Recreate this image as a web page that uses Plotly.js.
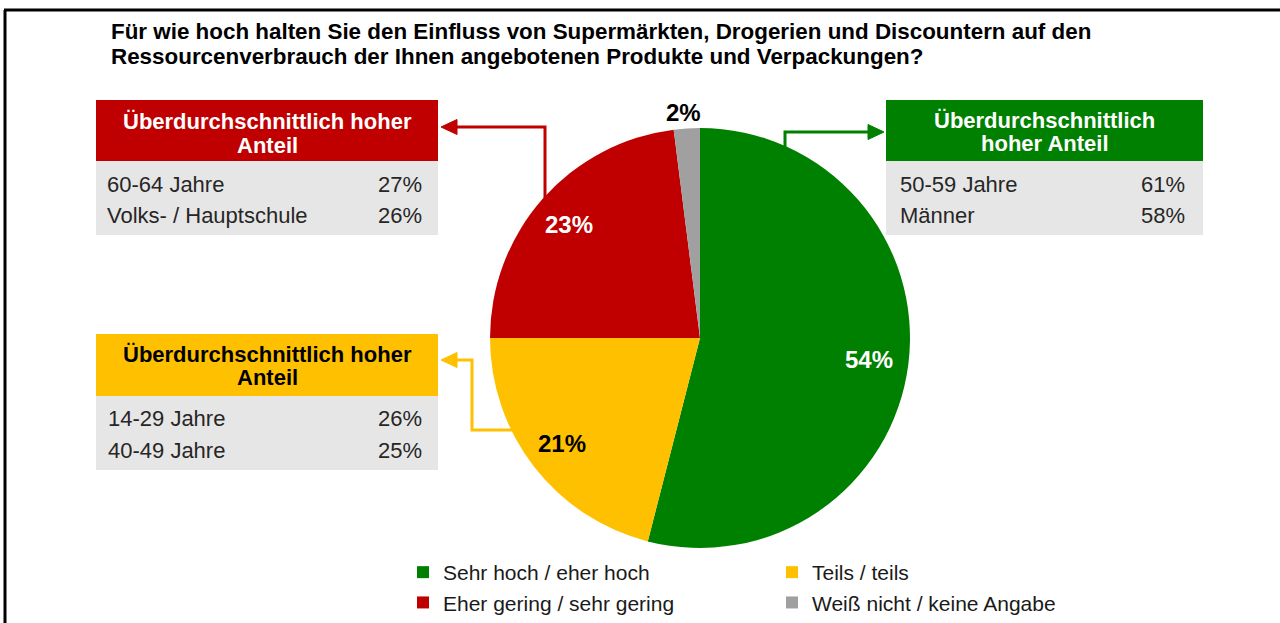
<!DOCTYPE html>
<html>
<head>
<meta charset="utf-8">
<script src="https://cdn.plot.ly/plotly-3.0.1.min.js"></script>
<style>html,body{margin:0;padding:0;background:#fff;}#chart{width:1280px;height:623px;}</style>
</head>
<body>
<div id="chart"></div>
<script>
// ---------- data ----------
const titleLines = ['Für wie hoch halten Sie den Einfluss von Supermärkten, Drogerien und Discountern auf den',
                    'Ressourcenverbrauch der Ihnen angebotenen Produkte und Verpackungen?'];
const categories = ['Sehr hoch / eher hoch', 'Teils / teils', 'Eher gering / sehr gering', 'Weiß nicht / keine Angabe'];
const values = [54, 21, 23, 2];

const redHeader = ['Überdurchschnittlich hoher', 'Anteil'];
const redRows = ['60-64 Jahre', 'Volks- / Hauptschule'];
const redVals = [27, 26];

const greenHeader = ['Überdurchschnittlich', 'hoher Anteil'];
const greenRows = ['50-59 Jahre', 'Männer'];
const greenVals = [61, 58];

const yellowHeader = ['Überdurchschnittlich hoher', 'Anteil'];
const yellowRows = ['14-29 Jahre', '40-49 Jahre'];
const yellowVals = [26, 25];

// ---------- styling / layout helpers ----------
const GREEN = '#008000', YELLOW = '#FFC000', RED = '#C00000', GREY = '#A0A0A0', BODY = '#E6E6E6';
const sliceColors = [GREEN, YELLOW, RED, GREY];
const labelColors = ['#fff', '#000', '#fff', '#000'];
const W = 1280, H = 623, ML = 240, MR = 240, MT = 0, MB = 0;
const PW = W - ML - MR, PH = H - MT - MB;
const px = x => (x - ML) / PW;
const py = y => (H - MB - y) / PH;
const FONT = '"Liberation Sans", Arial, Helvetica, sans-serif';

// pie geometry (pixels)
const PIE = {cx: 700, cy: 338, r: 210};

const shapes = [];
const annotations = [];

// outer frame
shapes.push({type: 'line', xref: 'paper', yref: 'paper', x0: px(4), x1: px(1285), y0: py(10), y1: py(10), line: {color: '#000', width: 3}});
shapes.push({type: 'line', xref: 'paper', yref: 'paper', x0: px(5), x1: px(5), y0: py(10), y1: py(630), line: {color: '#000', width: 3}});

// title
titleLines.forEach((t, i) => {
  annotations.push({xref: 'paper', yref: 'paper', x: px(109), y: py(32 + 24 * i), xanchor: 'left', yanchor: 'middle',
    text: t, showarrow: false, font: {family: FONT, size: 22.4, color: '#000', weight: 'bold'}});
});

function box(b, headerColor, textColor, header, rows, vals) {
  shapes.push({type: 'rect', xref: 'paper', yref: 'paper', x0: px(b.l), x1: px(b.r), y0: py(b.top), y1: py(b.mid),
               fillcolor: headerColor, line: {width: 0}, layer: 'below'});
  shapes.push({type: 'rect', xref: 'paper', yref: 'paper', x0: px(b.l), x1: px(b.r), y0: py(b.mid), y1: py(b.bot),
               fillcolor: BODY, line: {width: 0}, layer: 'below'});
  const cx = (b.l + b.r) / 2;
  header.forEach((t, i) => {
    annotations.push({xref: 'paper', yref: 'paper', x: px(cx), y: py(b.h[i]), xanchor: 'center', yanchor: 'middle',
      text: t, showarrow: false, font: {family: FONT, size: 22, color: textColor, weight: 'bold'}});
  });
  rows.forEach((t, i) => {
    annotations.push({xref: 'paper', yref: 'paper', x: px(b.tl), y: py(b.rows[i]), xanchor: 'left', yanchor: 'middle',
      text: t, showarrow: false, font: {family: FONT, size: 22, color: '#262626'}});
    annotations.push({xref: 'paper', yref: 'paper', x: px(b.tr), y: py(b.rows[i]), xanchor: 'right', yanchor: 'middle',
      text: vals[i] + '%', showarrow: false, font: {family: FONT, size: 22, color: '#262626'}});
  });
}

box({l: 96, r: 438, top: 100, mid: 161, bot: 235, h: [121, 145], rows: [184, 215], tl: 105, tr: 424}, RED, '#fff', redHeader, redRows, redVals);
box({l: 886, r: 1203, top: 100, mid: 161, bot: 235, h: [120, 144], rows: [184, 215], tl: 898, tr: 1187}, GREEN, '#fff', greenHeader, greenRows, greenVals);
box({l: 96, r: 438, top: 334, mid: 396, bot: 470, h: [354, 378], rows: [418, 450], tl: 106, tr: 424}, YELLOW, '#000', yellowHeader, yellowRows, yellowVals);

function pathOf(pts, close) {
  return pts.map((p, i) => (i ? 'L' : 'M') + px(p[0]).toFixed(5) + ',' + py(p[1]).toFixed(5)).join(' ') + (close ? ' Z' : '');
}
function arrow(pts, tip, dir, color) {
  shapes.push({type: 'path', xref: 'paper', yref: 'paper', path: pathOf(pts), line: {color: color, width: 3}});
  const bx = tip[0] - dir * 16;
  shapes.push({type: 'path', xref: 'paper', yref: 'paper',
    path: pathOf([tip, [bx, tip[1] - 7.5], [bx, tip[1] + 7.5]], true), fillcolor: color, line: {color: color, width: 1}});
}
arrow([[545, 205], [545, 127], [456, 127]], [441, 127], -1, RED);
arrow([[785, 152], [785, 132], [870, 132]], [884, 132], 1, GREEN);
arrow([[518, 430], [472, 430], [472, 360], [456, 360]], [441, 360], -1, YELLOW);

// slice labels, placed at each slice's mid-angle (clockwise from 12 o'clock)
const total = values.reduce((a, b) => a + b, 0);
let cum = 0;
values.forEach((v, i) => {
  const mid = (cum + v / 2) / total * 2 * Math.PI;
  cum += v;
  const outside = v / total < 0.05;
  const rr = PIE.r * (outside ? 1.075 : 0.82);
  const x = PIE.cx + rr * Math.sin(mid);
  const y = PIE.cy - rr * Math.cos(mid);
  annotations.push({xref: 'paper', yref: 'paper', x: px(x - 2), y: py(y), xanchor: 'center', yanchor: 'middle',
    text: v + '%', showarrow: false, font: {family: FONT, size: 24, color: labelColors[i], weight: 'bold'}});
});

const data = [{
  type: 'pie',
  labels: categories,
  values: values,
  sort: false,
  direction: 'clockwise',
  rotation: 0,
  marker: {colors: sliceColors, line: {width: 0}},
  textinfo: 'none',
  domain: {x: [px(PIE.cx - PIE.r), px(PIE.cx + PIE.r)], y: [py(PIE.cy + PIE.r), py(PIE.cy - PIE.r)]},
  hoverinfo: 'skip',
  showlegend: true
}];

const layout = {
  width: W, height: H,
  margin: {l: ML, r: MR, t: MT, b: MB, pad: 0},
  paper_bgcolor: '#fff', plot_bgcolor: '#fff',
  showlegend: true,
  legend: {
    orientation: 'h', x: px(403), xanchor: 'left', y: 0, yanchor: 'bottom',
    entrywidth: 324, entrywidthmode: 'pixels', traceorder: 'normal',
    font: {family: FONT, size: 21, color: '#1a1a1a'},
    bgcolor: 'rgba(0,0,0,0)', borderwidth: 0, itemclick: false, itemdoubleclick: false
  },
  shapes: shapes,
  annotations: annotations
};

Plotly.newPlot('chart', data, layout, {staticPlot: true, displayModeBar: false});
</script>
</body>
</html>
